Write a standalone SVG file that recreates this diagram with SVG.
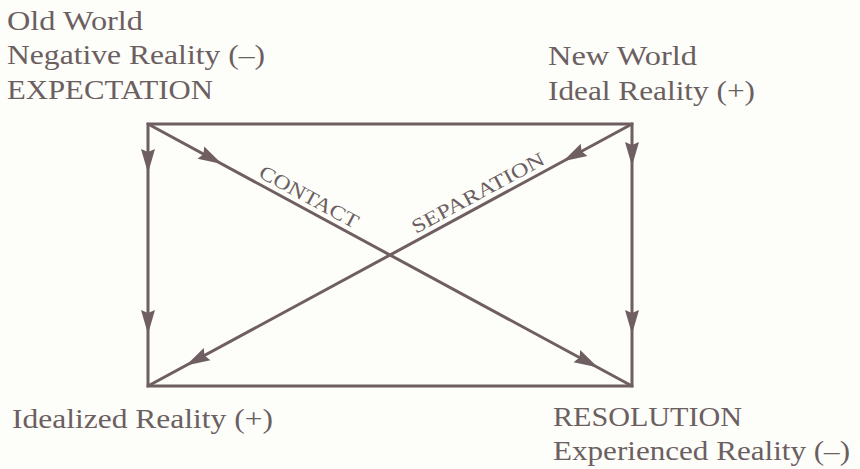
<svg xmlns="http://www.w3.org/2000/svg" xmlns:xlink="http://www.w3.org/1999/xlink" width="860" height="469" viewBox="0 0 860 469">
<style>
.t{font-family:"Liberation Serif","Times New Roman",serif;font-size:27px;fill:#6b5f61}
.s{font-family:"Liberation Serif","Times New Roman",serif;font-size:20px;fill:#6b5f61}
.ln{stroke:#6f5f62;stroke-width:3;fill:none;stroke-linecap:round;stroke-linejoin:miter}
.ah{fill:#6f5f62}
</style>
<defs>
<path id="ah" d="M0,0 L-24,-7 L-21,0 L-24,7 Z"/>
</defs>
<rect width="860" height="469" fill="#fdfdf9"/>
<g id="connectors">
<path class="ln" d="M148,124 H632 V386 H148 Z"/>
<line class="ln" x1="148" y1="124" x2="632" y2="386"/>
<line class="ln" x1="632" y1="124" x2="148" y2="386"/>
<g class="ah">
<use xlink:href="#ah" transform="translate(148,173) rotate(90)"/>
<use xlink:href="#ah" transform="translate(148,334) rotate(90)"/>
<use xlink:href="#ah" transform="translate(632,166) rotate(90)"/>
<use xlink:href="#ah" transform="translate(632,334) rotate(90)"/>
<use xlink:href="#ah" transform="translate(222,164) rotate(28.4)"/>
<use xlink:href="#ah" transform="translate(598,367.5) rotate(28.4)"/>
<use xlink:href="#ah" transform="translate(563,161.3) rotate(151.6)"/>
<use xlink:href="#ah" transform="translate(186,365.5) rotate(151.6)"/>
</g>
<text class="s" transform="translate(303,208) rotate(28.4)" x="0" y="-6" text-anchor="middle" textLength="110" lengthAdjust="spacingAndGlyphs">CONTACT</text>
<text class="s" transform="translate(484,204) rotate(-28.4)" x="0" y="-6" text-anchor="middle" textLength="148" lengthAdjust="spacingAndGlyphs">SEPARATION</text>
</g>
<g id="old-world">
<text class="t" x="7" y="30" textLength="136" lengthAdjust="spacingAndGlyphs">Old World</text>
<text class="t" x="7" y="64" textLength="258" lengthAdjust="spacingAndGlyphs">Negative Reality (–)</text>
<text class="t" x="7" y="99" textLength="206" lengthAdjust="spacingAndGlyphs">EXPECTATION</text>
</g>
<g id="new-world">
<text class="t" x="548" y="65" textLength="149" lengthAdjust="spacingAndGlyphs">New World</text>
<text class="t" x="548" y="100" textLength="207" lengthAdjust="spacingAndGlyphs">Ideal Reality (+)</text>
</g>
<g id="idealized">
<text class="t" x="12" y="428" textLength="261" lengthAdjust="spacingAndGlyphs">Idealized Reality (+)</text>
</g>
<g id="resolution">
<text class="t" x="553" y="426" textLength="189" lengthAdjust="spacingAndGlyphs">RESOLUTION</text>
<text class="t" x="553" y="460" textLength="297" lengthAdjust="spacingAndGlyphs">Experienced Reality (–)</text>
</g>
</svg>
